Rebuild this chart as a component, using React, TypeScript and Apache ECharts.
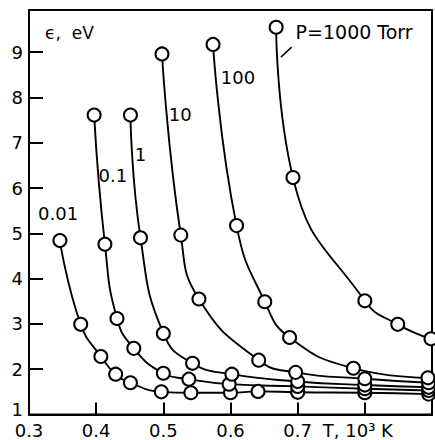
import React, { useEffect, useRef } from "react";
import * as echarts from "echarts";

// Curves: [T (10^3 K), epsilon (eV)]
const P0_01 = [[0.346, 4.84], [0.377, 2.99], [0.407, 2.28], [0.429, 1.89], [0.451, 1.70], [0.497, 1.50], [0.541, 1.48], [0.600, 1.48], [0.641, 1.51], [0.700, 1.49], [0.800, 1.48], [0.895, 1.45]];
const P0_1 = [[0.397, 7.61], [0.413, 4.76], [0.431, 3.12], [0.456, 2.46], [0.500, 1.91], [0.538, 1.78], [0.598, 1.67], [0.700, 1.62], [0.800, 1.57], [0.895, 1.53]];
const P1 = [[0.451, 7.61], [0.466, 4.90], [0.500, 2.79], [0.5435, 2.13], [0.602, 1.89], [0.700, 1.73], [0.800, 1.65], [0.895, 1.60]];
const P10 = [[0.498, 8.96], [0.526, 4.96], [0.553, 3.55], [0.642, 2.20], [0.697, 1.93], [0.800, 1.79], [0.895, 1.70]];
const P100 = [[0.574, 9.17], [0.609, 5.17], [0.651, 3.49], [0.688, 2.70], [0.783, 2.02], [0.894, 1.81]];
const P1000 = [[0.668, 9.55], [0.693, 6.23], [0.800, 3.51], [0.849, 2.99], [0.8985, 2.67]];

const curves = [P0_01, P0_1, P1, P10, P100, P1000];
const curveNames = ["0.01", "0.1", "1", "10", "100", "1000"];

// Curve labels (position in data coordinates)
const labelTexts = ["0.01", "0.1", "1", "10", "100", "P=1000 Torr"];
const labelCoords = [[0.3433, 5.43], [0.4248, 6.27], [0.4661, 6.73], [0.5253, 7.63], [0.6111, 8.43], [0.6969, 9.44]];
const leader = [[0.691, 9.11], [0.675, 8.89]];

const xTickLabels = ["0.3", "0.4", "0.5", "0.6", "0.7", "T, 10³ K", ""];
const yName = "ϵ,  eV";

const FONT = "DejaVu Sans";

export default function App() {
  const ref = useRef<HTMLDivElement>(null);
  useEffect(() => {
    if (!ref.current) return;
    const chart = echarts.init(ref.current, null, { renderer: "svg" });
    const series: any[] = curves.map((c, i) => ({
      type: "line",
      name: curveNames[i],
      data: c,
      smooth: 0.5,
      symbol: "emptyCircle",
      symbolSize: 13,
      lineStyle: { color: "#000", width: 1.9 },
      itemStyle: { color: "#000", borderWidth: 1.9 },
      z: 3,
    }));
    series.push({
      type: "line",
      data: leader,
      symbol: "none",
      lineStyle: { color: "#000", width: 1.5 },
    });
    series.push({
      type: "scatter",
      symbolSize: 0,
      itemStyle: { opacity: 1 },
      data: labelTexts.map((t, i) => ({
        value: labelCoords[i],
        name: t,
        label:
          i === labelTexts.length - 1
            ? { position: "right", distance: 0, fontSize: 19 }
            : undefined,
      })),
      label: {
        show: true,
        formatter: "{b}",
        position: "inside",
        color: "#000",
        opacity: 1,
        textBorderWidth: 0,
        fontFamily: FONT,
        fontSize: 18,
      },
      z: 5,
    });
    chart.setOption({
      animation: false,
      grid: {
        left: 29,
        top: 10,
        right: 2,
        bottom: 25.5,
        show: true,
        borderColor: "#000",
        borderWidth: 2,
        backgroundColor: "#fff",
      },
      graphic: [
        {
          type: "text",
          left: 45,
          top: 24,
          style: { text: yName, fontFamily: FONT, fontSize: 17, fill: "#000" },
        },
      ],
      xAxis: {
        type: "value",
        min: 0.3,
        max: 0.9,
        interval: 0.1,
        axisLine: { lineStyle: { color: "#000", width: 2 } },
        axisTick: { inside: true, length: 12, lineStyle: { color: "#000", width: 2 } },
        splitLine: { show: false },
        axisLabel: {
          margin: 7,
          color: "#000",
          fontFamily: FONT,
          fontSize: 18,
          formatter: (v: number) => {
            const k = Math.round(v * 10) - 3;
            const t = xTickLabels[k] ?? "";
            if (k === 5) return "{t|" + t + "}";
            return t;
          },
          rich: { t: { fontFamily: FONT, fontSize: 18, color: "#000", padding: [0, 14, 0, 0] } },
        },
      },
      yAxis: {
        type: "value",
        min: 1,
        max: 9.93,
        interval: 1,
        axisLine: { lineStyle: { color: "#000", width: 2 } },
        axisTick: { inside: true, length: 14, lineStyle: { color: "#000", width: 2 } },
        splitLine: { show: false },
        axisLabel: {
          margin: 6,
          color: "#000",
          fontFamily: FONT,
          fontSize: 18,
          formatter: (v: number) => {
            if (Math.abs(v - Math.round(v)) > 1e-6) return "";
            if (Math.round(v) === 1) return "{o|1}";
            return String(Math.round(v));
          },
          rich: { o: { fontFamily: FONT, fontSize: 18, color: "#000", padding: [0, 0, 10, 0] } },
        },
      },
      series,
    });
    return () => chart.dispose();
  }, []);
  return (
    <div
      ref={ref}
      style={{ position: "fixed", left: 0, top: 0, width: 435, height: 440, background: "#fff" }}
    />
  );
}
